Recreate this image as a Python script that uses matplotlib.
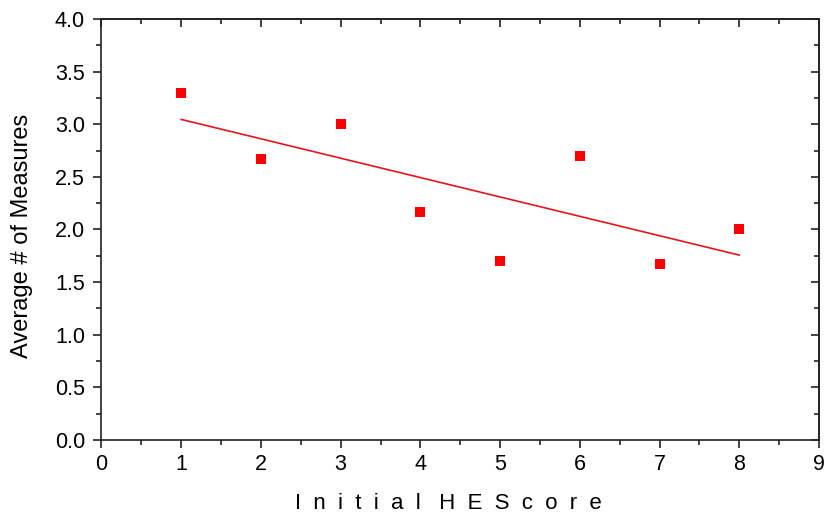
import numpy as np
import matplotlib
matplotlib.use('Agg')
from matplotlib import pyplot as plt
from matplotlib.ticker import MultipleLocator

plt.rcParams['font.family'] = ['Liberation Sans', 'DejaVu Sans']

hes_score = [1, 2, 3, 4, 5, 6, 7, 8]
avg_measures = [3.30, 2.67, 3.00, 2.17, 1.70, 2.70, 1.67, 2.00]

# linear fit of the points
slope, inter = np.polyfit(hes_score, avg_measures, 1)
xfit = np.array([min(hes_score), max(hes_score)])
yfit = slope * xfit + inter

fig = plt.figure(figsize=(8.27, 5.16), dpi=100)
ax = fig.add_axes([0.1227, 0.1473, 0.8676, 0.8159])

ax.plot(hes_score, avg_measures, 's', color='#ff0000', markersize=6.5, markeredgewidth=0)
ax.plot(xfit, yfit, '-', color='#e8141c', linewidth=1.2)

ax.set_xlim(0, 9)
ax.set_ylim(0, 4)
ax.xaxis.set_major_locator(MultipleLocator(1))
ax.xaxis.set_minor_locator(MultipleLocator(0.5))
ax.yaxis.set_major_locator(MultipleLocator(0.5))
ax.yaxis.set_minor_locator(MultipleLocator(0.25))
ax.yaxis.set_major_formatter(plt.FormatStrFormatter('%.1f'))

for s in ax.spines.values():
    s.set_linewidth(1.2)
    s.set_color('#222222')

ax.tick_params(which='major', direction='out', length=5.8, width=1.2, labelsize=15.5, color='#222222')
ax.tick_params(which='minor', direction='out', length=3.5, width=1.2, color='#222222')
ax.tick_params(axis='y', which='major', pad=6)
ax.tick_params(axis='x', which='major', pad=4.5)

# mirrored ticks pointing inward on top and right
top = ax.secondary_xaxis('top')
top.xaxis.set_major_locator(MultipleLocator(1))
top.xaxis.set_minor_locator(MultipleLocator(0.5))
top.tick_params(which='major', direction='in', length=6, width=1.2, labeltop=False, color='#222222')
top.tick_params(which='minor', direction='in', length=3.5, width=1.2, color='#222222')
right = ax.secondary_yaxis('right')
right.yaxis.set_major_locator(MultipleLocator(0.5))
right.yaxis.set_minor_locator(MultipleLocator(0.25))
right.tick_params(which='major', direction='in', length=6, width=1.2, labelright=False, color='#222222')
right.tick_params(which='minor', direction='in', length=3.5, width=1.2, color='#222222')
for sec in (top, right):
    for s in sec.spines.values():
        s.set_linewidth(1.2)
        s.set_color('#222222')

ax.set_xlabel('I  n  i  t  i  a  l   H  E  S  c  o  r  e', fontsize=16)
ax.xaxis.set_label_coords(0.483, -0.126)
ax.set_ylabel('Average # of Measures', fontsize=17)
ax.yaxis.set_label_coords(-0.0955, 0.485)

fig.savefig('out.png', dpi=100)
